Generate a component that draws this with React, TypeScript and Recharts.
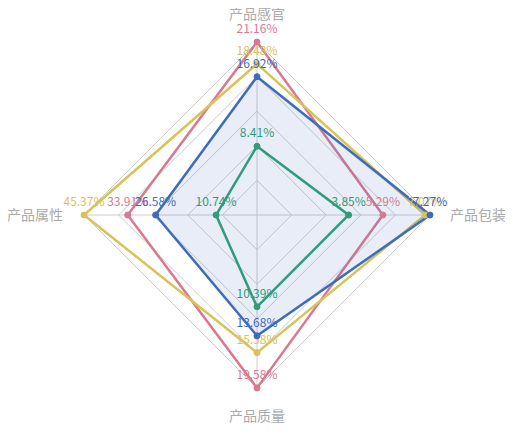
import { RadarChart, Radar, PolarGrid, PolarAngleAxis, PolarRadiusAxis } from "recharts";

const indicators = ["产品感官", "产品包装", "产品质量", "产品属性"];

const redValues = [21.16, 5.29, 19.58, 33.91];
const yellowValues = [18.48, 7.07, 15.58, 45.37];
const blueValues = [16.92, 7.27, 13.68, 26.58];
const greenValues = [8.41, 3.85, 10.39, 10.74];

const WIDTH = 505;
const HEIGHT = 440;
const CX = 249;
const CY = 207;
const RADIUS = 173;

// each indicator has its own max (like echarts radar), so scale every axis to 0..100
const axisMax = indicators.map((_, i) =>
  Math.max(redValues[i], yellowValues[i], blueValues[i], greenValues[i])
);

const data = indicators.map((name, i) => ({
  name,
  red: (redValues[i] / axisMax[i]) * 100,
  yellow: (yellowValues[i] / axisMax[i]) * 100,
  blue: (blueValues[i] / axisMax[i]) * 100,
  green: (greenValues[i] / axisMax[i]) * 100,
}));

const series = [
  { key: "red", values: redValues, color: "#d77a90", fill: "none", fillOpacity: 0 },
  { key: "yellow", values: yellowValues, color: "#d8c35a", fill: "none", fillOpacity: 0 },
  { key: "blue", values: blueValues, color: "#3f6bbd", fill: "#3f6bbd", fillOpacity: 0.12 },
  { key: "green", values: greenValues, color: "#2f9c7c", fill: "none", fillOpacity: 0 },
];

function makeDot(values: number[], color: string) {
  return (props: any) => {
    const { cx, cy, index } = props;
    return (
      <g key={`dot-${index}`}>
        <circle cx={cx} cy={cy} r={3} fill={color} stroke={color} />
        <text x={cx} y={cy - 9} textAnchor="middle" fontSize={12} fill={color}>
          {values[index].toFixed(2)}%
        </text>
      </g>
    );
  };
}

function AngleTick(props: any) {
  const { index, payload } = props;
  let x = CX;
  let y = CY;
  let anchor: "middle" | "start" | "end" = "middle";
  if (index === 0) y = CY - 196;
  if (index === 1) { x = CX + 193; y = CY + 5; anchor = "start"; }
  if (index === 2) y = CY + 206;
  if (index === 3) { x = CX - 194; y = CY + 5; anchor = "end"; }
  return (
    <text x={x} y={y} textAnchor={anchor} fontSize={14} fill="#aaaaaa">
      {payload.value}
    </text>
  );
}

export default function App() {
  return (
    <div style={{ width: WIDTH, height: HEIGHT, fontFamily: "'Noto Sans CJK SC', 'Noto Sans', sans-serif" }}>
      <RadarChart width={WIDTH} height={HEIGHT} data={data} cx={CX} cy={CY} outerRadius={RADIUS}
        margin={{ top: 0, right: 0, bottom: 0, left: 0 }}>
        <PolarGrid gridType="polygon" stroke="#cccccc" polarRadius={[34.6, 69.2, 103.8, 138.4, 173]} />
        <PolarAngleAxis dataKey="name" tick={<AngleTick />} tickLine={false} axisLine={false} />
        <PolarRadiusAxis domain={[0, 100]} tick={false} axisLine={false} tickCount={6} />
        {series.map((s) => (
          <Radar
            key={s.key}
            dataKey={s.key}
            stroke={s.color}
            strokeWidth={2.5}
            fill={s.fill}
            fillOpacity={s.fillOpacity}
            dot={makeDot(s.values, s.color)}
            isAnimationActive={false}
          />
        ))}
      </RadarChart>
    </div>
  );
}
